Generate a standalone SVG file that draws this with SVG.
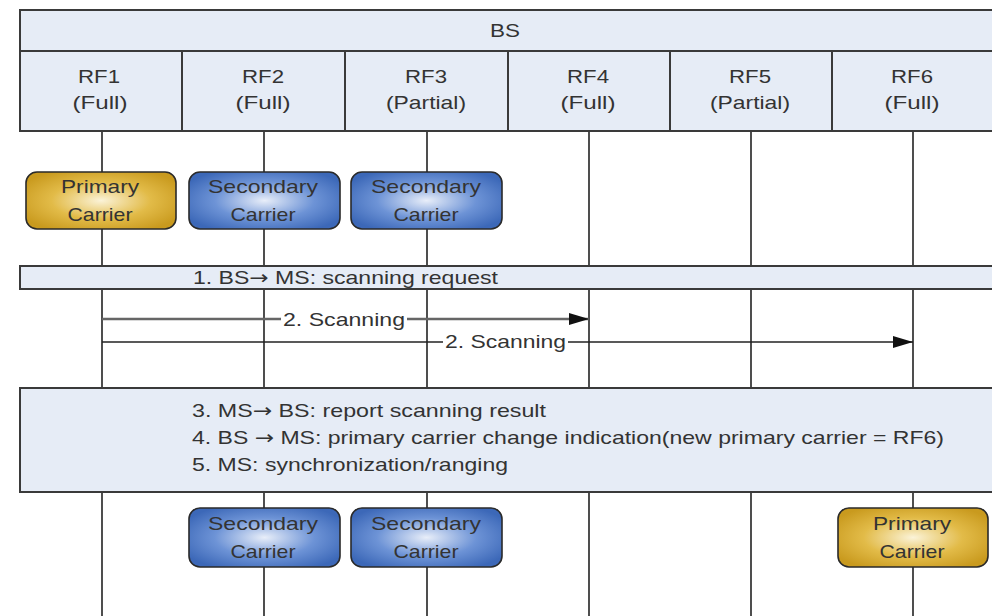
<svg xmlns="http://www.w3.org/2000/svg" width="992" height="616" viewBox="0 0 992 616">
<style>
text{font-family:"Liberation Sans",Arial,sans-serif;font-size:19px;fill:#333}
.c{text-anchor:middle}
.ar{font-family:"DejaVu Sans",sans-serif}
.hdr{fill:#e6ecf6;stroke:#3a3a3a;stroke-width:2}
.div{stroke:#3a3a3a;stroke-width:2}
.life{stroke:#222;stroke-width:1.6}
.gold{fill:url(#gg);stroke:#2a2a2a;stroke-width:1.6}
.blue{fill:url(#bg);stroke:#2a2a2a;stroke-width:1.6}
.arr{stroke:#222;stroke-width:1.6;fill:none;marker-end:url(#ah)}
</style>
<defs>
<radialGradient id="gg" cx="50%" cy="50%" r="60%">
<stop offset="0" stop-color="#fbf3d8"/><stop offset="0.55" stop-color="#e2bb48"/><stop offset="1" stop-color="#c99a1e"/>
</radialGradient>
<radialGradient id="bg" cx="50%" cy="50%" r="60%">
<stop offset="0" stop-color="#e8eef9"/><stop offset="0.55" stop-color="#6d93d6"/><stop offset="1" stop-color="#3c68b8"/>
</radialGradient>
<marker id="ah" markerWidth="22" markerHeight="12" refX="20" refY="6" orient="auto" markerUnits="userSpaceOnUse">
<path d="M0,0 L20,6 L0,12 Z" fill="#111"/>
</marker>
</defs>
<rect width="992" height="616" fill="#fff"/>
<g id="lifelines">
<line class="life" x1="102" y1="131" x2="102" y2="616"/>
<line class="life" x1="264" y1="131" x2="264" y2="616"/>
<line class="life" x1="427" y1="131" x2="427" y2="616"/>
<line class="life" x1="589" y1="131" x2="589" y2="616"/>
<line class="life" x1="751" y1="131" x2="751" y2="616"/>
<line class="life" x1="913" y1="131" x2="913" y2="616"/>
</g>
<g id="bs">
<rect class="hdr" x="20" y="10" width="980" height="41"/>
<text class="c" x="505" y="37" textLength="30" lengthAdjust="spacingAndGlyphs">BS</text>
</g>
<g id="rf-row">
<rect class="hdr" x="20" y="51" width="980" height="80"/>
<line class="div" x1="182" y1="51" x2="182" y2="131"/>
<line class="div" x1="345" y1="51" x2="345" y2="131"/>
<line class="div" x1="508" y1="51" x2="508" y2="131"/>
<line class="div" x1="670" y1="51" x2="670" y2="131"/>
<line class="div" x1="832" y1="51" x2="832" y2="131"/>
</g>
<g id="rf1"><text class="c" x="99" y="83" textLength="42" lengthAdjust="spacingAndGlyphs">RF1</text><text class="c" x="100" y="109" textLength="55" lengthAdjust="spacingAndGlyphs">(Full)</text></g>
<g id="rf2"><text class="c" x="263" y="83" textLength="42" lengthAdjust="spacingAndGlyphs">RF2</text><text class="c" x="263" y="109" textLength="55" lengthAdjust="spacingAndGlyphs">(Full)</text></g>
<g id="rf3"><text class="c" x="426" y="83" textLength="42" lengthAdjust="spacingAndGlyphs">RF3</text><text class="c" x="426" y="109" textLength="80" lengthAdjust="spacingAndGlyphs">(Partial)</text></g>
<g id="rf4"><text class="c" x="588" y="83" textLength="42" lengthAdjust="spacingAndGlyphs">RF4</text><text class="c" x="588" y="109" textLength="55" lengthAdjust="spacingAndGlyphs">(Full)</text></g>
<g id="rf5"><text class="c" x="750" y="83" textLength="42" lengthAdjust="spacingAndGlyphs">RF5</text><text class="c" x="750" y="109" textLength="80" lengthAdjust="spacingAndGlyphs">(Partial)</text></g>
<g id="rf6"><text class="c" x="912" y="83" textLength="42" lengthAdjust="spacingAndGlyphs">RF6</text><text class="c" x="912" y="109" textLength="55" lengthAdjust="spacingAndGlyphs">(Full)</text></g>
<g id="pc1"><rect class="gold" x="26" y="172" width="150" height="57" rx="11"/><text class="c" x="100" y="193" textLength="78" lengthAdjust="spacingAndGlyphs">Primary</text><text class="c" x="100" y="221" textLength="65" lengthAdjust="spacingAndGlyphs">Carrier</text></g>
<g id="sc2"><rect class="blue" x="189" y="172" width="151" height="57" rx="11"/><text class="c" x="263" y="193" textLength="110" lengthAdjust="spacingAndGlyphs">Secondary</text><text class="c" x="263" y="221" textLength="65" lengthAdjust="spacingAndGlyphs">Carrier</text></g>
<g id="sc3"><rect class="blue" x="351" y="172" width="151" height="57" rx="11"/><text class="c" x="426" y="193" textLength="110" lengthAdjust="spacingAndGlyphs">Secondary</text><text class="c" x="426" y="221" textLength="65" lengthAdjust="spacingAndGlyphs">Carrier</text></g>
<g id="step1"><rect class="hdr" x="20" y="266" width="980" height="23"/><text x="193" y="284" textLength="305" lengthAdjust="spacingAndGlyphs">1. BS<tspan class="ar">→</tspan> MS: scanning request</text></g>
<g id="connectors">
<line class="arr" x1="102" y1="319" x2="589" y2="319" style="stroke:#666;stroke-width:2.5"/>
<rect x="281" y="306" width="126" height="24" fill="#fff"/>
<text x="283" y="326" textLength="122" lengthAdjust="spacingAndGlyphs">2. Scanning</text>
<line class="arr" x1="102" y1="342" x2="913" y2="342"/>
<rect x="443" y="330" width="125" height="22" fill="#fff"/>
<text x="445" y="348" textLength="121" lengthAdjust="spacingAndGlyphs">2. Scanning</text>
</g>
<g id="step345"><rect class="hdr" x="20" y="388" width="980" height="104"/>
<text x="192" y="417" textLength="354" lengthAdjust="spacingAndGlyphs">3. MS<tspan class="ar">→</tspan> BS: report scanning result</text>
<text x="192" y="444" textLength="752" lengthAdjust="spacingAndGlyphs">4. BS <tspan class="ar">→</tspan> MS: primary carrier change indication(new primary carrier = RF6)</text>
<text x="192" y="471" textLength="316" lengthAdjust="spacingAndGlyphs">5. MS: synchronization/ranging</text>
</g>
<g id="sc2b"><rect class="blue" x="189" y="508" width="151" height="59" rx="11"/><text class="c" x="263" y="530" textLength="110" lengthAdjust="spacingAndGlyphs">Secondary</text><text class="c" x="263" y="558" textLength="65" lengthAdjust="spacingAndGlyphs">Carrier</text></g>
<g id="sc3b"><rect class="blue" x="351" y="508" width="151" height="59" rx="11"/><text class="c" x="426" y="530" textLength="110" lengthAdjust="spacingAndGlyphs">Secondary</text><text class="c" x="426" y="558" textLength="65" lengthAdjust="spacingAndGlyphs">Carrier</text></g>
<g id="pc6"><rect class="gold" x="838" y="508" width="150" height="59" rx="11"/><text class="c" x="912" y="530" textLength="78" lengthAdjust="spacingAndGlyphs">Primary</text><text class="c" x="912" y="558" textLength="65" lengthAdjust="spacingAndGlyphs">Carrier</text></g>
</svg>
